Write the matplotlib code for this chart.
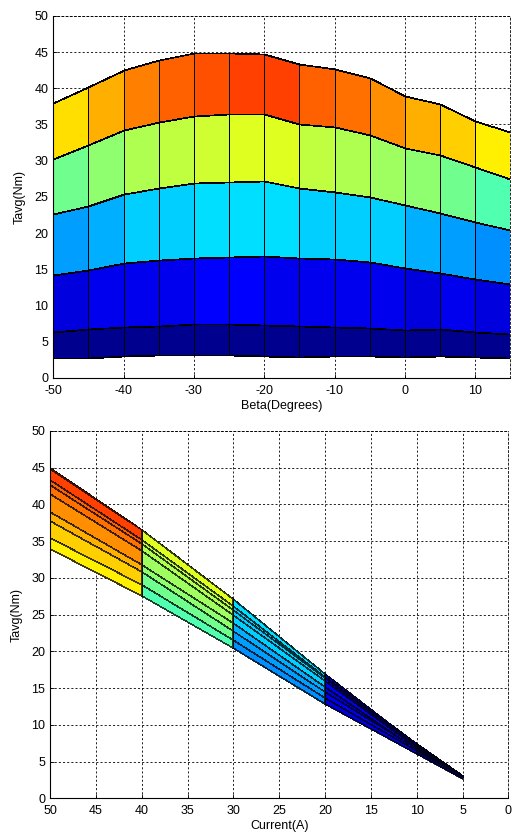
import numpy as np
import matplotlib
matplotlib.use('Agg')
import matplotlib.pyplot as plt
from matplotlib.colors import ListedColormap

plt.rcParams['font.family'] = ['Liberation Sans', 'DejaVu Sans']
plt.rcParams['font.size'] = 9
plt.rcParams['axes.unicode_minus'] = False

# ---- data ----
beta = [-50, -45, -40, -35, -30, -25, -20, -15, -10, -5, 0, 5, 10, 15]
current = [5, 10, 20, 30, 40, 50]
T_5A = [2.8, 2.8, 3.0, 3.1, 3.1, 3.1, 3.0, 2.9, 3.0, 3.0, 2.9, 3.0, 2.9, 2.7]
T_10A = [6.3, 6.7, 7.0, 7.2, 7.4, 7.4, 7.3, 7.1, 7.0, 6.9, 6.6, 6.7, 6.4, 6.1]
T_20A = [14.2, 14.9, 15.9, 16.3, 16.6, 16.7, 16.9, 16.5, 16.4, 16.0, 15.2, 14.5, 13.7, 12.9]
T_30A = [22.6, 23.8, 25.4, 26.2, 26.9, 27.1, 27.2, 26.2, 25.7, 25.0, 23.9, 22.8, 21.5, 20.4]
T_40A = [30.2, 32.1, 34.2, 35.4, 36.2, 36.5, 36.5, 35.1, 34.6, 33.6, 31.8, 30.8, 29.1, 27.5]
T_50A = [37.9, 40.2, 42.5, 43.9, 44.9, 44.9, 44.8, 43.3, 42.6, 41.4, 39.0, 37.8, 35.5, 34.0]


def matlab_jet(m=64):
    n = int(np.ceil(m / 4))
    u = np.concatenate([np.arange(1, n + 1) / n, np.ones(n - 1), np.arange(n, 0, -1) / n])
    g = int(np.ceil(n / 2)) - (1 if m % 4 == 1 else 0) + np.arange(1, len(u) + 1)
    r = g + n
    b = g - n
    J = np.zeros((m, 3))
    for ch, idx in enumerate([r, g, b]):
        ok = (idx >= 1) & (idx <= m)
        J[idx[ok] - 1, ch] = u[ok]
    return ListedColormap(J)


jet64 = matlab_jet(64)

T = np.array([T_5A, T_10A, T_20A, T_30A, T_40A, T_50A])  # shape (n_current, n_beta)
B, Cu = np.meshgrid(np.array(beta, float), np.array(current, float))
vmin, vmax = T.min(), T.max()
# flat shading: colour from the lower-current / lower-beta vertex
C = T[:-1, :-1]

fig = plt.figure(figsize=(5.12, 8.36), dpi=100)

grid_kw = dict(color='black', linestyle=(0, (2.5, 2.5)), linewidth=0.6)


def style(ax):
    ax.grid(True, **grid_kw)
    ax.set_axisbelow(True)
    for s in ['top', 'right']:
        ax.spines[s].set_linestyle((0, (2.5, 2.5)))
        ax.spines[s].set_linewidth(0.6)
    for s in ['left', 'bottom']:
        ax.spines[s].set_linewidth(0.8)
    ax.tick_params(direction='in', length=3, width=0.6, labelsize=9)
    ax.tick_params(axis='x', pad=5)
    ax.tick_params(axis='y', pad=3.5)


# ---- top: Beta vs Tavg ----
ax1 = fig.add_axes([0.104, 0.548, 0.893, 0.433])
ax1.pcolormesh(B, T, C, cmap=jet64, vmin=vmin, vmax=vmax, shading='flat',
               edgecolors='black', linewidth=0.5)
ax1.set_xlim(-50, 15)
ax1.set_ylim(0, 50)
ax1.set_xticks([-50, -40, -30, -20, -10, 0, 10])
ax1.set_yticks(np.arange(0, 51, 5))
ax1.set_xlabel('Beta(Degrees)', labelpad=2)
ax1.set_ylabel('Tavg(Nm)', labelpad=6)
style(ax1)

# ---- bottom: Current vs Tavg ----
ax2 = fig.add_axes([0.098, 0.045, 0.895, 0.4395])
Cb = T.T[:-1, :-1]
ax2.pcolormesh(Cu.T, T.T, Cb, cmap=jet64, vmin=vmin, vmax=vmax, shading='flat',
               edgecolors=(0, 0, 0, 0.75), linewidth=0.35)
ax2.set_xlim(50, 0)
ax2.set_ylim(0, 50)
ax2.set_xticks(np.arange(50, -1, -5))
ax2.set_yticks(np.arange(0, 51, 5))
ax2.set_xlabel('Current(A)', labelpad=2)
ax2.set_ylabel('Tavg(Nm)', labelpad=6)
style(ax2)

fig.savefig('out.png', dpi=100)
